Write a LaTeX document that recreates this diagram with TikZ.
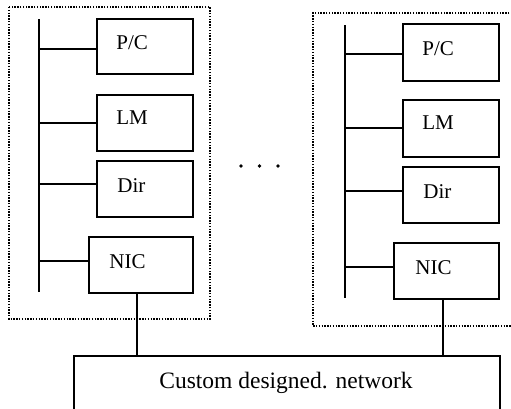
\documentclass[tikz,border=0pt]{standalone}
\usepackage{fontspec}
\setmainfont{Liberation Serif}
\begin{document}
\begin{tikzpicture}[x=1pt,y=-1pt,
  box/.style={draw, line width=1.6pt, rectangle, inner sep=0pt},
  link/.style={draw, line width=1.6pt},
  group/.style={draw, line width=1.5pt, dash pattern=on 1.4pt off 1.4pt},
  lbl/.style={anchor=base west, inner sep=0pt, font=\fontsize{21}{25}\selectfont},
  dot/.style={fill=black, circle, inner sep=0pt, minimum size=3.8pt}]
\clip (0,0) rectangle (511,408);

% ---- node group on the left ----
\draw[group] (9,7) rectangle (210,319);
\coordinate (b1top) at (39,19);
\coordinate (b1bot) at (39,292);
\draw[link] (b1top) -- (b1bot);
\node[box, minimum width=96pt, minimum height=55pt] (pc1)  at (145,46.5) {};
\node[box, minimum width=96pt, minimum height=56pt] (lm1)  at (145,123) {};
\node[box, minimum width=96pt, minimum height=56pt] (dir1) at (145,189) {};
\node[box, minimum width=104pt, minimum height=56pt] (nic1) at (141,265) {};
\node[lbl] (pc1t)  at ([xshift=20pt,yshift=-3pt]pc1.west)  {P/C};
\node[lbl] (lm1t)  at ([xshift=20pt,yshift=-1pt]lm1.west)  {LM};
\node[lbl] (dir1t) at ([xshift=21pt,yshift=-3pt]dir1.west) {Dir};
\node[lbl] (nic1t) at ([xshift=21pt,yshift=-3pt]nic1.west) {NIC};
\draw[link] ([yshift=-2.5pt]pc1.west) -- ++(-58,0);
\draw[link] (lm1.west) -- ++(-58,0);
\draw[link] ([yshift=5pt]dir1.west) -- ++(-58,0);
\draw[link] ([yshift=4pt]nic1.west) -- ++(-50,0);

% ---- node group on the right ----
\draw[group] (515,13) -- (313,13) -- (313,326) -- (515,326);
\coordinate (b2top) at (345,25);
\coordinate (b2bot) at (345,298);
\draw[link] (b2top) -- (b2bot);
\node[box, minimum width=96pt, minimum height=57pt] (pc2)  at (451,52.5) {};
\node[box, minimum width=96pt, minimum height=57pt] (lm2)  at (451,128.5) {};
\node[box, minimum width=96pt, minimum height=56pt] (dir2) at (451,195) {};
\node[box, minimum width=105pt, minimum height=56pt] (nic2) at (446.5,271) {};
\node[lbl] (pc2t)  at ([xshift=20pt,yshift=-3pt]pc2.west)  {P/C};
\node[lbl] (lm2t)  at ([xshift=20pt,yshift=-1pt]lm2.west)  {LM};
\node[lbl] (dir2t) at ([xshift=21pt,yshift=-3pt]dir2.west) {Dir};
\node[lbl] (nic2t) at ([xshift=22pt,yshift=-3pt]nic2.west) {NIC};
\draw[link] ([yshift=-1.5pt]pc2.west) -- ++(-58,0);
\draw[link] ([yshift=0.4pt]lm2.west) -- ++(-58,0);
\draw[link] ([yshift=4pt]dir2.west) -- ++(-58,0);
\draw[link] ([yshift=4pt]nic2.west) -- ++(-49,0);

% ---- ellipsis between the groups ----
\node[dot] (e1) at (241,166) {};
\node[dot] (e2) at (259.5,166) {};
\node[dot] (e3) at (278,166) {};

% ---- interconnect ----
\node[box, minimum width=426pt, minimum height=60pt, anchor=north west] (net) at (73,355) {};
\node[anchor=base, inner sep=0pt, font=\fontsize{23.5}{28}\selectfont] (nett) at (286,388) {Custom designed. network};
\draw[link] ([xshift=-4pt]nic1.south) -- ([xshift=-4pt]nic1.south |- net.north);
\draw[link] ([xshift=-3.5pt]nic2.south) -- ([xshift=-3.5pt]nic2.south |- net.north);
\end{tikzpicture}
\end{document}
